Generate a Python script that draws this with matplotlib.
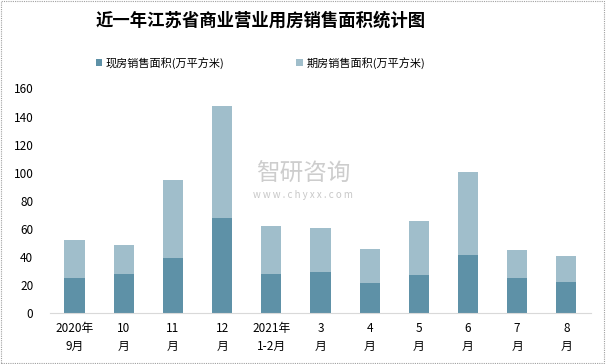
import matplotlib
matplotlib.use("Agg")
import matplotlib.pyplot as plt
from matplotlib.patches import Rectangle
import numpy as np

plt.rcParams['font.family'] = ['Noto Sans CJK SC', 'DejaVu Sans']

# data
months = ['2020年\n9月', '10\n月', '11\n月', '12\n月', '2021年\n1-2月',
          '3\n月', '4\n月', '5\n月', '6\n月', '7\n月', '8\n月']
spot = [25.1, 28.0, 39.3, 67.8, 28.0, 29.4, 21.6, 27.2, 41.5, 25.1, 22.3]
total = [52.1, 48.6, 94.8, 147.4, 62.1, 60.7, 45.7, 65.7, 100.5, 45.0, 40.8]
forward = [t - s for t, s in zip(total, spot)]

dark = '#5E91A7'
light = '#A0BECB'

fig = plt.figure(figsize=(6.06, 3.64), dpi=100)
ax = fig.add_axes([0.0825, 0.139, 0.8925, 0.618])

x = np.arange(len(months))
ax.bar(x, spot, width=0.41, color=dark, label='现房销售面积(万平方米)')
ax.bar(x, forward, width=0.41, bottom=spot, color=light, label='期房销售面积(万平方米)')

ax.set_xlim(-0.5, len(months) - 0.5)
ax.set_ylim(0, 160)
ax.set_yticks(range(0, 161, 20))
ax.set_xticks(x)
ax.set_xticklabels(months, fontsize=8.5, linespacing=1.5)
ax.tick_params(axis='y', labelsize=8.5, length=0, pad=12)
ax.tick_params(axis='x', length=0, pad=6)
for side in ['top', 'right', 'left']:
    ax.spines[side].set_visible(False)
ax.spines['bottom'].set_color('#D9D9D9')

fig.text(0.43, 0.943, '近一年江苏省商业营业用房销售面积统计图', ha='center', va='center',
         fontsize=12.5, fontweight='bold')

ax.legend(loc='center', bbox_to_anchor=(0.389, 1.115), ncol=2, frameon=False,
          fontsize=8, handlelength=0.6, handleheight=0.6, handletextpad=0.3,
          columnspacing=6.5)

# watermark
fig.text(0.5, 0.52, '智研咨询', ha='center', va='center', fontsize=17,
         color='#C8C8C8', alpha=0.9)
fig.text(0.5, 0.465, 'w w w . c h y x x . c o m', ha='center', va='center',
         fontsize=7, color='#C8C8C8')

fig.patches.append(Rectangle((0.002, 0.003), 0.995, 0.994, transform=fig.transFigure,
                             fill=False, edgecolor='#A0A0A0', linestyle=(0, (1, 1)),
                             linewidth=0.8))

fig.savefig('out.png', dpi=100)
